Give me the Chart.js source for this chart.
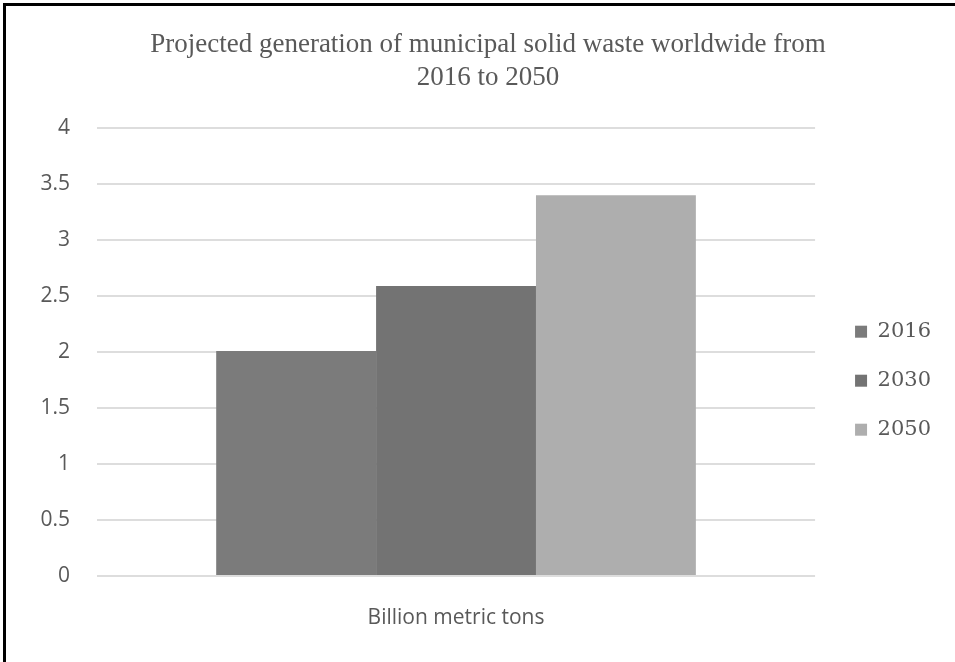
<!DOCTYPE html>
<html>
<head>
<meta charset="utf-8">
<script src="https://cdn.jsdelivr.net/npm/chart.js@4.4.1/dist/chart.umd.min.js"></script>
<style>
  html, body { margin: 0; padding: 0; background: #fff; }
  #wrap { position: relative; width: 955px; height: 662px; }
  #frame { position: absolute; left: 3px; top: 3px; right: 0; bottom: 0;
           border-left: 3px solid #000; border-top: 3px solid #000; pointer-events: none; }
</style>
</head>
<body>
<div id="wrap">
  <canvas id="c" width="955" height="662"></canvas>
  <div id="frame"></div>
</div>
<script>
const titleLines = ['Projected generation of municipal solid waste worldwide from', '2016 to 2050'];
const categories = ['Billion metric tons'];
const seriesNames = ['2016', '2030', '2050'];
const values2016 = [2.01];
const values2030 = [2.59];
const values2050 = [3.40];
const seriesColors = ['#7b7b7b', '#737373', '#aeaeae'];
const yTicks = [0, 0.5, 1, 1.5, 2, 2.5, 3, 3.5, 4];
const yTickLabels = ['0', '0.5', '1', '1.5', '2', '2.5', '3', '3.5', '4'];

const seriesValues = [values2016, values2030, values2050];

new Chart(document.getElementById('c'), {
  type: 'bar',
  data: {
    labels: categories,
    datasets: seriesNames.map((n, i) => ({
      label: n,
      data: seriesValues[i],
      backgroundColor: seriesColors[i],
      borderWidth: 0,
      categoryPercentage: 0.668,
      barPercentage: 1
    }))
  },
  options: {
    responsive: false,
    animation: false,
    devicePixelRatio: 1,
    layout: { padding: { top: 0, left: 35, right: 14, bottom: 32 } },
    plugins: {
      tooltip: { enabled: false },
      title: {
        display: true,
        text: titleLines,
        color: '#595959',
        font: { family: 'Liberation Serif', size: 27, weight: 'normal', lineHeight: 33 / 27 },
        padding: { top: 28.5, bottom: 33.5 }
      },
      legend: {
        position: 'right',
        fullSize: false,
        title: { display: true, text: ' ', font: { size: 12, lineHeight: 1.2 }, padding: { top: 43, bottom: 0 } },
        labels: {
          boxWidth: 12,
          boxHeight: 12,
          padding: 28,
          color: '#595959',
          font: { family: 'DejaVu Serif', size: 21 }
        }
      }
    },
    scales: {
      x: {
        grid: { display: false },
        border: { display: false },
        ticks: { color: '#595959', padding: 21, font: { family: 'Open Sans', size: 21 } },
        afterFit: s => { s.height = 54; }
      },
      y: {
        min: 0,
        max: 4,
        afterBuildTicks: s => { s.ticks = yTicks.map(v => ({ value: v })); },
        grid: { color: '#dddddd', lineWidth: 2, drawTicks: false },
        border: { display: false },
        ticks: {
          color: '#595959', padding: 27, font: { family: 'Open Sans', size: 21 },
          callback: (v) => yTickLabels[yTicks.indexOf(v)]
        },
        afterFit: s => { s.width = 62; }
      },
      y2: {
        position: 'right',
        display: true,
        grid: { display: false },
        border: { display: false },
        ticks: { display: false },
        afterFit: s => { s.width = 12; }
      }
    }
  }
});
</script>
</body>
</html>
